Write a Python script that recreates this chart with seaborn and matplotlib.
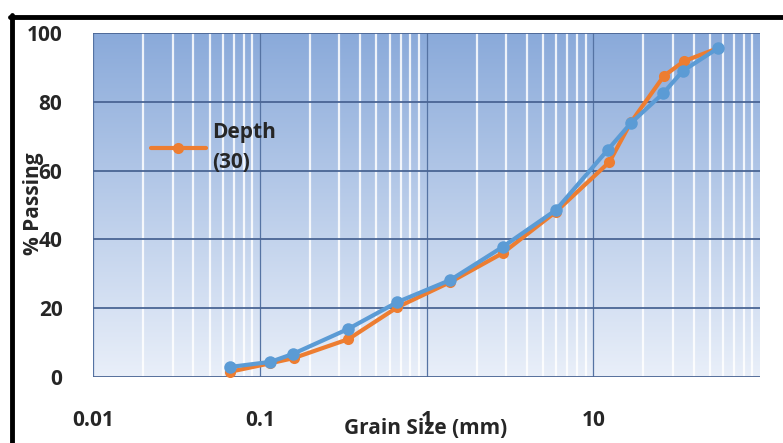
import numpy as np
import pandas as pd
import matplotlib
matplotlib.use('Agg')
import matplotlib.pyplot as plt
from matplotlib.lines import Line2D
import seaborn as sns

# grain size (mm) and % passing
size_orange = [0.066, 0.116, 0.16, 0.34, 0.67, 1.39, 2.86, 5.96, 12.5, 16.8, 26.5, 35.0, 56.0]
pass_orange = [1.5, 4.0, 5.5, 11.0, 20.3, 27.6, 36.0, 48.0, 62.5, 74.0, 87.5, 91.8, 95.6]
size_blue = [0.066, 0.116, 0.158, 0.34, 0.67, 1.39, 2.86, 5.96, 12.2, 16.8, 26.3, 34.5, 56.0]
pass_blue = [2.9, 4.4, 6.7, 14.0, 21.8, 28.2, 37.8, 48.5, 66.0, 73.8, 82.5, 89.0, 95.6]
legend_label = 'Depth\n(30)'
xticks = [0.01, 0.1, 1, 10]
xtick_labels = ['0.01', '0.1', '1', '10']
yticks = [0, 20, 40, 60, 80, 100]

sns.set_style('white')
plt.rcParams['font.family'] = ['Open Sans', 'DejaVu Sans']
plt.rcParams['font.weight'] = 'bold'

orange = '#ED7D31'
blue = '#5B9BD5'
fs = 15

fig = plt.figure(figsize=(7.83, 4.43), dpi=100)
ax = fig.add_axes([93 / 783, 1 - 377 / 443, (760 - 93) / 783, (377 - 33) / 443])

# gradient background of the plot area
grad = np.linspace(0, 1, 256).reshape(-1, 1)
cmap = matplotlib.colors.LinearSegmentedColormap.from_list('bg', ['#E9EFF9', '#8AAADA'])
ax.imshow(grad, aspect='auto', cmap=cmap, origin='lower',
          extent=[0, 1, 0, 1], transform=ax.transAxes, zorder=0)

ax.set_xscale('log')
ax.set_xlim(0.01, 100)
ax.set_ylim(0, 100)

# minor vertical gridlines in white, major in dark blue
ax.xaxis.set_minor_locator(matplotlib.ticker.LogLocator(base=10, subs=np.arange(2, 10)))
ax.grid(which='minor', axis='x', color='white', lw=1.6, alpha=0.85, zorder=1)
ax.grid(which='major', axis='x', color='#5573A3', lw=0.9, zorder=1)
ax.grid(which='major', axis='y', color='#4A6594', lw=1.3, zorder=1)
ax.set_axisbelow(True)

df_o = pd.DataFrame({'size': size_orange, 'passing': pass_orange})
df_b = pd.DataFrame({'size': size_blue, 'passing': pass_blue})
sns.lineplot(data=df_o, x='size', y='passing', ax=ax, color=orange, lw=3,
             marker='o', markersize=8, markeredgewidth=0, sort=False, zorder=3)
sns.lineplot(data=df_b, x='size', y='passing', ax=ax, color=blue, lw=3,
             marker='o', markersize=9, markeredgewidth=0, sort=False, zorder=4)

ax.set_xticks(xticks)
ax.set_xticklabels(xtick_labels)
ax.set_yticks(yticks)
ax.tick_params(axis='x', which='both', length=0, pad=24, labelsize=fs)
ax.tick_params(axis='y', which='both', length=0, pad=22, labelsize=fs)
ax.set_xlabel('')
ax.set_ylabel('')
for s in ax.spines.values():
    s.set_visible(False)

handle = Line2D([], [], color=orange, lw=3, marker='o', markersize=8, markeredgewidth=0)
leg = ax.legend([handle], [legend_label], loc='upper left', bbox_to_anchor=(0.075, 0.765),
                frameon=False, fontsize=fs, handlelength=2.6, handletextpad=0.3,
                borderaxespad=0)
for t in leg.get_texts():
    t.set_linespacing(1.55)

fig.text(426 / 783, 1 - 428 / 443, 'Grain Size (mm)', ha='center', va='center',
         fontsize=fs, fontweight='bold')
fig.text(33 / 783, 1 - 204 / 443, '% Passing', ha='center', va='center',
         rotation=90, fontsize=fs, fontweight='bold')

# partial black frame (top and left edges)
fig.add_artist(Line2D([11.5 / 783, 11.5 / 783], [0, 1 - 15 / 443], color='black',
                      lw=3.5, transform=fig.transFigure))
fig.add_artist(Line2D([10 / 783, 1], [1 - 17 / 443, 1 - 17 / 443], color='black',
                      lw=3.5, transform=fig.transFigure))

fig.savefig('out.png', dpi=100)
